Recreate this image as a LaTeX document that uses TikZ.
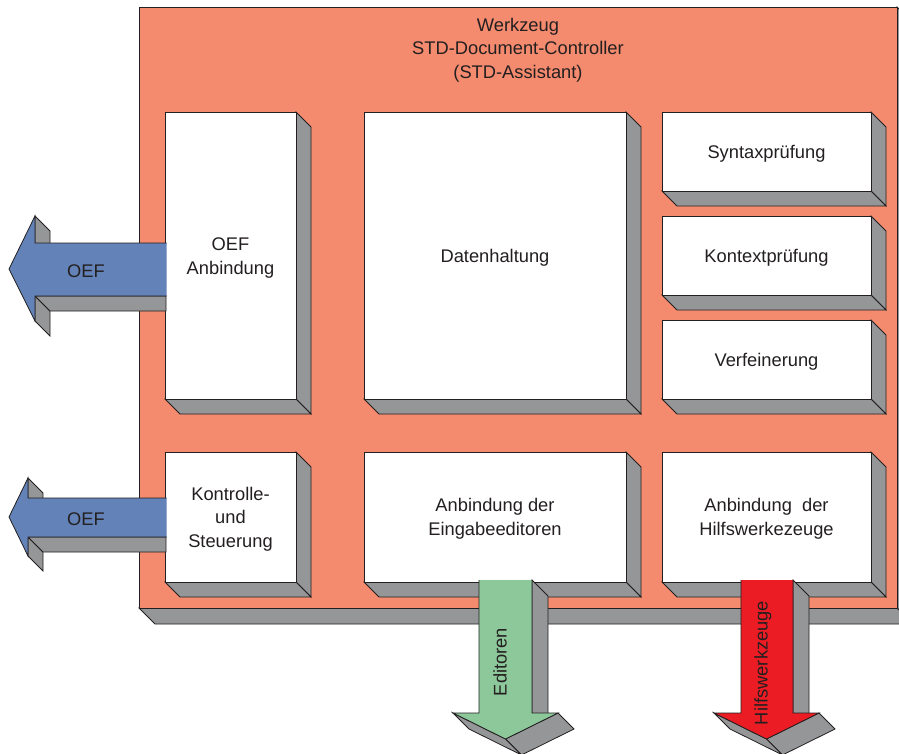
\documentclass[tikz,border=0pt]{standalone}
\usepackage{fontspec}
\setmainfont{Liberation Sans}
\definecolor{salmon}{HTML}{F48B6E}
\definecolor{shade}{HTML}{959698}
\definecolor{oefblue}{HTML}{6382B8}
\definecolor{edgreen}{HTML}{8DC89B}
\definecolor{hwred}{HTML}{EC1C24}
\definecolor{ink}{HTML}{231F20}
\tikzset{
 face/.style={fill=shade, draw=ink, line width=0.8pt, line join=miter},
 front/.style={fill=white, draw=ink, line width=0.8pt},
 outl/.style={draw=ink, line width=0.8pt, line join=miter},
 lbl/.style={text=ink, align=center, font=\fontsize{18.3}{23.5}\selectfont, inner sep=0pt, yshift=-2pt},
}
\newcommand\tdbox[5]{%
 \filldraw[face] (#3,#2) -- ({#3+#5},{#2+#5}) -- ({#3+#5},{#4+#5}) -- (#3,#4) -- cycle;
 \filldraw[face] (#1,#4) -- (#3,#4) -- ({#3+#5},{#4+#5}) -- ({#1+#5},{#4+#5}) -- cycle;
 \filldraw[front] (#1,#2) rectangle (#3,#4);
}
% bottom arrow: x1 x2 hx1 hx2 tipx colour
\newcommand\myDownArrow[6]{%
 \filldraw[face] (#2,580) -- ({#2+16},596) -- ({#2+16},729) -- (#2,713) -- cycle;
 \filldraw[face] (#4,713) -- (#5,739) -- ({#5+16},755) -- ({#4+16},729) -- cycle;
 \filldraw[face] (#5,739) -- (#3,713) -- ({#3+16},729) -- ({#5+16},755) -- cycle;
 \fill[#6] (#1,580) -- (#2,580) -- (#2,713) -- (#4,713) -- (#5,739) -- (#3,713) -- (#1,713) -- cycle;
 \draw[outl] (#2,580) -- (#2,713) -- (#4,713) -- (#5,739) -- (#3,713) -- (#1,713) -- (#1,580);
}
\begin{document}
\begin{tikzpicture}[x=1pt,y=-1pt]
\useasboundingbox (0,0) rectangle (899,754);
\clip (0,0) rectangle (899,754);
% main box
\filldraw[face] (897,7) -- (913,23) -- (913,624) -- (897,608) -- cycle;
\filldraw[face] (139,608) -- (897,608) -- (913,624) -- (155,624) -- cycle;
\filldraw[fill=salmon, draw=ink, line width=0.8pt] (139,7) rectangle (897,608);
\node[lbl] (title) at (518,48) {Werkzeug\\STD-Document-Controller\\(STD-Assistant)};
% inner boxes
\tdbox{165}{112}{296}{399}{15}
\tdbox{364}{112}{626}{399}{15}
\tdbox{662}{112}{871}{191}{15}
\tdbox{662}{216}{871}{295}{15}
\tdbox{662}{320}{871}{399}{15}
\tdbox{165}{452}{296}{582}{15}
\tdbox{364}{452}{626}{582}{15}
\tdbox{662}{452}{871}{582}{15}
\node[lbl] (oefanb) at (230.5,256) {OEF\\Anbindung};
\node[lbl] (daten) at (495,256) {Datenhaltung};
\node[lbl] (syntax) at (766.5,152) {Syntaxprüfung};
\node[lbl] (kontext) at (766.5,256) {Kontextprüfung};
\node[lbl] (verf) at (766.5,360) {Verfeinerung};
\node[lbl] (kontr) at (230.5,517) {Kontrolle-\\und\\Steuerung};
\node[lbl] (eing) at (495,517) {Anbindung der\\Eingabeeditoren};
\node[lbl] (hilf) at (766.5,517) {Anbindung\ \ der\\Hilfswerkezeuge};
% upper left arrow
\filldraw[face] (35,258) -- (35,216) -- (50,231) -- (50,258) -- cycle;
\filldraw[face] (35,321) -- (35,296) -- (50,311) -- (50,336) -- cycle;
\filldraw[face] (35,296) -- (166,296) -- (166,311) -- (50,311) -- cycle;
\fill[oefblue] (166.5,243) -- (35,243) -- (35,216) -- (9,269) -- (35,321) -- (35,296) -- (166.5,296) -- cycle;
\draw[outl] (166.5,243) -- (35,243) -- (35,216) -- (9,269) -- (35,321) -- (35,296) -- (166.5,296);
\node[lbl] (oef1) at (86,269) {OEF};
% lower left arrow
\filldraw[face] (28,510) -- (28,478) -- (43,493) -- (43,510) -- cycle;
\filldraw[face] (28,556) -- (28,537) -- (43,552) -- (43,571) -- cycle;
\filldraw[face] (28,537) -- (166,537) -- (166,552) -- (43,552) -- cycle;
\fill[oefblue] (166.5,498) -- (28,498) -- (28,478) -- (9,517) -- (28,556) -- (28,537) -- (166.5,537) -- cycle;
\draw[outl] (166.5,498) -- (28,498) -- (28,478) -- (9,517) -- (28,556) -- (28,537) -- (166.5,537);
\node[lbl] (oef2) at (86,517) {OEF};
% bottom arrows
\myDownArrow{479}{532}{453}{558}{505.5}{edgreen}
\node[lbl, rotate=90, yshift=2pt] (edit) at (502,660) {Editoren};
\myDownArrow{741}{793}{714}{819}{766.5}{hwred}
\node[lbl, rotate=90, yshift=2pt] (hilfsw) at (765,661) {Hilfswerkzeuge};
\end{tikzpicture}
\end{document}
